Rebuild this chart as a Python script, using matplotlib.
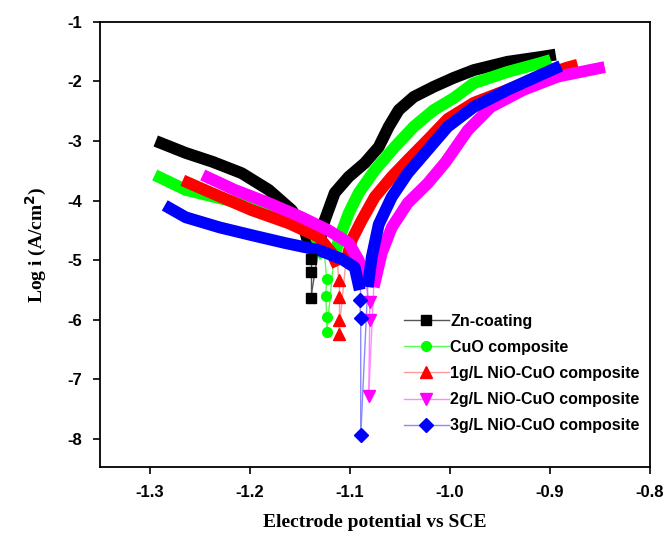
import numpy as np
import matplotlib.pyplot as plt
from matplotlib.lines import Line2D

plt.rcParams['axes.unicode_minus'] = False

# Tafel data (E vs SCE, log i)
# Zn-coating
zn_cath_E = [-1.294, -1.264, -1.237, -1.208, -1.181, -1.158, -1.145, -1.139]
zn_cath_i = [-3.00, -3.20, -3.35, -3.54, -3.82, -4.16, -4.50, -4.85]
zn_dip_E = [-1.139, -1.139, -1.139]
zn_dip_i = [-4.98, -5.20, -5.64]
zn_anod_E = [-1.130, -1.125, -1.115, -1.101, -1.085, -1.071, -1.061, -1.051, -1.036, -1.016,
             -0.996, -0.976, -0.942, -0.909, -0.894]
zn_anod_i = [-4.70, -4.33, -3.87, -3.60, -3.37, -3.10, -2.76, -2.48, -2.26, -2.09,
             -1.94, -1.81, -1.67, -1.59, -1.55]

# CuO composite
cu_cath_E = [-1.295, -1.264, -1.230, -1.200, -1.160, -1.135, -1.125]
cu_cath_i = [-3.57, -3.82, -3.96, -4.08, -4.30, -4.58, -4.95]
cu_dip_E = [-1.123, -1.124, -1.123, -1.123]
cu_dip_i = [-5.32, -5.60, -5.96, -6.21]
cu_anod_E = [-1.116, -1.111, -1.101, -1.091, -1.075, -1.055, -1.036, -1.016, -0.996, -0.976,
             -0.942, -0.909, -0.899]
cu_anod_i = [-5.00, -4.66, -4.21, -3.87, -3.49, -3.10, -2.76, -2.48, -2.28, -2.03,
             -1.84, -1.69, -1.64]

# 1g/L NiO-CuO composite
n1_cath_E = [-1.267, -1.237, -1.198, -1.161, -1.131, -1.118, -1.112]
n1_cath_i = [-3.66, -3.88, -4.16, -4.38, -4.61, -4.88, -5.10]
n1_dip_E = [-1.111, -1.111, -1.111, -1.111]
n1_dip_i = [-5.34, -5.62, -6.00, -6.23]
n1_anod_E = [-1.104, -1.098, -1.088, -1.075, -1.058, -1.042, -1.022, -1.002, -0.976, -0.942,
             -0.909, -0.883, -0.872]
n1_anod_i = [-5.05, -4.66, -4.33, -3.94, -3.60, -3.32, -2.98, -2.63, -2.36, -2.14,
             -1.92, -1.77, -1.72]

# 2g/L NiO-CuO composite
n2_cath_E = [-1.247, -1.215, -1.181, -1.148, -1.121, -1.101, -1.091, -1.085]
n2_cath_i = [-3.57, -3.82, -4.04, -4.28, -4.50, -4.71, -5.00, -5.34]
n2_dip_E = [-1.080, -1.080, -1.081]
n2_dip_i = [-5.70, -6.00, -7.27]
n2_anod_E = [-1.076, -1.068, -1.058, -1.042, -1.022, -1.004, -0.982, -0.959, -0.926, -0.892,
             -0.860, -0.845]
n2_anod_i = [-5.45, -4.88, -4.45, -4.04, -3.71, -3.35, -2.82, -2.43, -2.14, -1.92,
             -1.81, -1.76]

# 3g/L NiO-CuO composite
n3_cath_E = [-1.285, -1.264, -1.230, -1.198, -1.165, -1.131, -1.108, -1.095, -1.090]
n3_cath_i = [-4.08, -4.28, -4.45, -4.58, -4.71, -4.83, -4.98, -5.12, -5.50]
n3_dip_E = [-1.090, -1.089, -1.089]
n3_dip_i = [-5.67, -5.97, -7.94]
n3_anod_E = [-1.082, -1.078, -1.071, -1.058, -1.042, -1.022, -1.002, -0.976, -0.942, -0.909,
             -0.889]
n3_anod_i = [-5.45, -4.95, -4.40, -3.94, -3.54, -3.15, -2.76, -2.43, -2.14, -1.89,
             -1.74]

labels = ['Zn-coating', 'CuO composite', '1g/L NiO-CuO composite',
          '2g/L NiO-CuO composite', '3g/L NiO-CuO composite']

series = [
    (zn_cath_E, zn_cath_i, zn_dip_E, zn_dip_i, zn_anod_E, zn_anod_i, 'black', '#555555', 's'),
    (cu_cath_E, cu_cath_i, cu_dip_E, cu_dip_i, cu_anod_E, cu_anod_i, '#00ff00', '#55ff55', 'o'),
    (n1_cath_E, n1_cath_i, n1_dip_E, n1_dip_i, n1_anod_E, n1_anod_i, '#ff0000', '#ff9999', '^'),
    (n2_cath_E, n2_cath_i, n2_dip_E, n2_dip_i, n2_anod_E, n2_anod_i, '#ff00ff', '#ff88ff', 'v'),
    (n3_cath_E, n3_cath_i, n3_dip_E, n3_dip_i, n3_anod_E, n3_anod_i, '#0000ff', '#8888ff', 'D'),
]

fig = plt.figure(figsize=(6.65, 5.45), dpi=100)
ax = fig.add_axes([0.150, 0.143, 0.827, 0.817])

handles = []
for (cE, ci, dE, di, aE, ai, col, lcol, mk), lab in zip(series, labels):
    # thin connecting line through the dip
    ax.plot(dE, di, c=lcol, lw=1, zorder=2)
    ax.plot([cE[-1], dE[0]], [ci[-1], di[0]], c=lcol, lw=1, zorder=2)
    ax.plot([dE[-1], aE[0]], [di[-1], ai[0]], c=lcol, lw=1, zorder=2)
    # dense marker band
    ax.plot(cE, ci, c=col, lw=8.5, solid_capstyle='butt', solid_joinstyle='round', zorder=3)
    ax.plot(aE, ai, c=col, lw=8.5, solid_capstyle='butt', solid_joinstyle='round', zorder=3)
    ms = 7 if mk in ('s', 'D', 'o') else 8
    ax.plot(dE, di, ls='none', marker=mk, ms=ms, mfc=col, mec=col, zorder=4)
    handles.append(Line2D([], [], c=lcol, lw=1, marker=mk, ms=ms, mfc=col, mec=col, label=lab))

ax.set_xlim(-1.35, -0.8)
ax.set_ylim(-8.47, -1)
ax.set_xticks(np.arange(-1.3, -0.79, 0.1))
ax.set_xticklabels(['-1.3', '-1.2', '-1.1', '-1.0', '-0.9', '-0.8'])
ax.set_yticks(np.arange(-8, 0, 1))
ax.tick_params(axis='both', which='both', direction='out', length=5, width=1.2, labelsize=12, pad=8)
for t in ax.get_xticklabels() + ax.get_yticklabels():
    t.set_fontfamily('Liberation Sans')
    t.set_fontweight('bold')
for s in ax.spines.values():
    s.set_linewidth(1.3)

ax.set_xlabel('Electrode potential vs SCE', fontsize=14, fontweight='bold',
              fontfamily='Liberation Serif', labelpad=10)
ax.set_ylabel(r'Log i (A/cm$^\mathbf{2}$)', fontsize=14, fontweight='bold',
              fontfamily='Liberation Serif', labelpad=13)

leg = ax.legend(handles=handles, loc='upper left', bbox_to_anchor=(0.527, 0.377),
                frameon=False, handlelength=2.8, labelspacing=0.7, handletextpad=0.1,
                prop={'family': 'Liberation Sans', 'weight': 'bold', 'size': 11.5})

fig.savefig('out.png', dpi=100)
